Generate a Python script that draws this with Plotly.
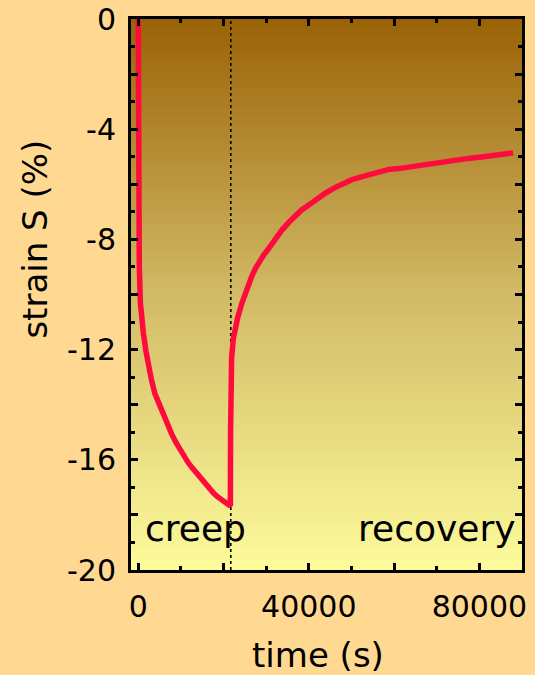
import numpy as np
import plotly.graph_objects as go

# Creep phase: load applied at t = 0 and held until creep_end
creep_t = [0, 30, 60, 120, 250, 500, 800, 1200, 1800, 2400, 3100, 3900,
           4900, 5900, 6800, 7800, 8800, 9800, 10700, 11700, 12700, 13700,
           14600, 15600, 16600, 17600, 18500, 19500, 20400, 21300, 21600]
creep_s = [0.0, -2.5, -4.5, -7.0, -9.0, -10.3, -10.9, -11.4, -12.05, -12.6,
           -13.1, -13.6, -14.0, -14.4, -14.75, -15.05, -15.36, -15.65, -15.9,
           -16.1, -16.3, -16.5, -16.68, -16.85, -17.03, -17.2, -17.33,
           -17.45, -17.55, -17.62, -17.68]

# Recovery phase: load removed at creep_end
recov_t = [21600, 21650, 21750, 21900, 22300, 22700, 23300, 24300, 25400,
           26600, 27500, 28500, 29500, 30500, 32000, 33600, 35500, 37000,
           38300, 40000, 42000, 43800, 46000, 48000, 50000, 52500, 55000,
           57000, 59000, 61000, 63000, 65300, 69500, 73900, 77400, 80900,
           84400, 87900]
recov_s = [-17.68, -15.0, -13.0, -12.3, -11.6, -11.25, -10.85, -10.32, -9.82,
           -9.35, -9.05, -8.78, -8.55, -8.35, -8.0, -7.68, -7.35, -7.12,
           -6.93, -6.75, -6.5, -6.33, -6.13, -5.98, -5.84, -5.72, -5.61,
           -5.54, -5.45, -5.43, -5.38, -5.33, -5.23, -5.13, -5.06, -5.0,
           -4.93, -4.86]

creep_end = 21700

x_range = [-1700, 90000]
y_range = [-20, 0]

x_ticks = [0, 20000, 40000, 60000, 80000]
x_ticktext = ["0", "", "40000", "", "80000"]
y_ticks = [0, -2, -4, -6, -8, -10, -12, -14, -16, -18, -20]
y_ticktext = ["0", "", "-4", "", "-8", "", "-12", "", "-16", "", "-20"]

FONT = "Comic Sans MS, DejaVu Sans, sans-serif"
PAPER = "#FFD991"

fig = go.Figure()

# Vertical brown-to-yellow gradient behind the data
n_rows = 220
y_edges = np.linspace(y_range[0], y_range[1], n_rows + 1)
y_mid = 0.5 * (y_edges[:-1] + y_edges[1:])
z = y_mid[:, None]
fig.add_trace(go.Heatmap(
    x=x_range, y=y_edges, z=z,
    colorscale=[[0.0, "#FDFB9C"], [0.5, "#D2BA66"], [1.0, "#9A6206"]],
    zmin=y_range[0], zmax=y_range[1],
    showscale=False, hoverinfo="skip",
))

# Dotted marker where the load is removed
fig.add_trace(go.Scatter(
    x=[creep_end, creep_end], y=y_range, mode="lines",
    line=dict(color="black", width=1.6, dash="dot"),
    hoverinfo="skip", showlegend=False,
))

# Strain curve
fig.add_trace(go.Scatter(
    x=creep_t + recov_t[1:], y=creep_s + recov_s[1:], mode="lines",
    line=dict(color="#FF0A3C", width=5.5),
    showlegend=False,
))

axis_common = dict(
    showline=True, linecolor="black", linewidth=3, mirror="allticks",
    ticks="inside", tickcolor="black", tickwidth=2.5, ticklen=7,
    showgrid=False, zeroline=False, automargin=False,
    tickfont=dict(family=FONT, size=30, color="black"),
)

fig.update_xaxes(
    range=x_range, tickmode="array", tickvals=x_ticks, ticktext=x_ticktext,
    minor=dict(dtick=10000, tick0=0, ticks="inside", ticklen=4,
               tickwidth=2.5, tickcolor="black", showgrid=False),
    ticklabelstandoff=8,
    **axis_common,
)
fig.update_yaxes(
    range=y_range, tickmode="array", tickvals=y_ticks, ticktext=y_ticktext,
    minor=dict(dtick=1, tick0=0, ticks="inside", ticklen=4,
               tickwidth=2.5, tickcolor="black", showgrid=False),
    ticklabelstandoff=6,
    **axis_common,
)

annots = [
    dict(text="creep", x=0.03, y=0.076, xanchor="left", yanchor="middle",
         font=dict(size=36)),
    dict(text="recovery", x=0.99, y=0.076, xanchor="right", yanchor="middle",
         font=dict(size=36)),
    dict(text="time (s)", x=0.478, y=-0.154, xanchor="center",
         yanchor="middle", font=dict(size=34)),
    dict(text="strain S (%)", x=-0.245, y=0.60, xanchor="center",
         yanchor="middle", textangle=-90, font=dict(size=34)),
]
for a in annots:
    a["font"].update(family=FONT, color="black")
    fig.add_annotation(xref="paper", yref="paper", showarrow=False, **a)

fig.update_layout(
    width=535, height=675,
    margin=dict(l=131, r=13, t=19, b=105),
    paper_bgcolor=PAPER, plot_bgcolor=PAPER,
    font=dict(family=FONT, color="black"),
)

fig.write_html("out.html")
